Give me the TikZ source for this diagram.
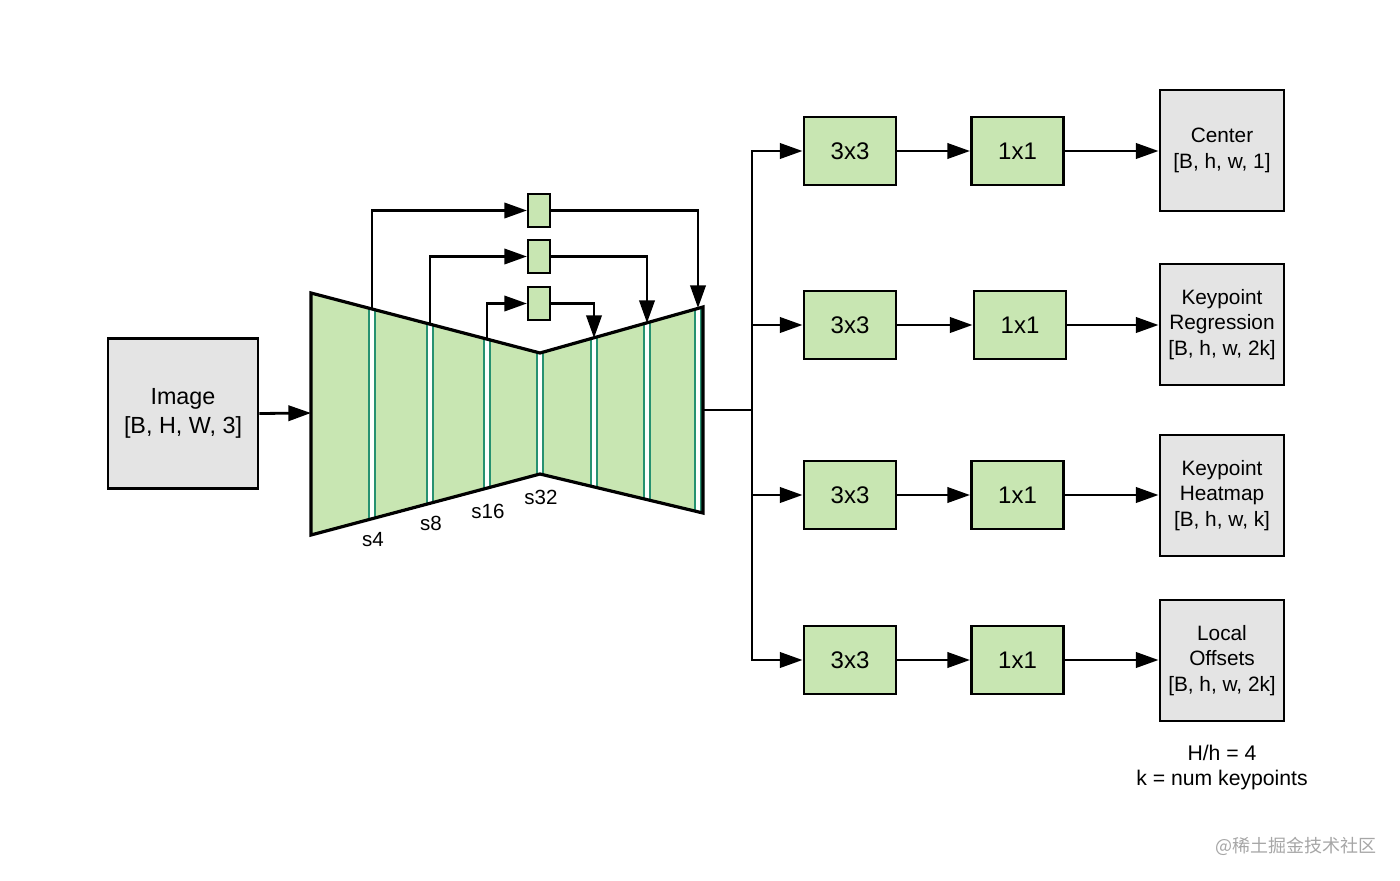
\documentclass[tikz,border=0pt]{standalone}
\usepackage{fontspec}
\setmainfont{Liberation Sans}
\newfontfamily\cjk{Noto Sans CJK SC}
\usetikzlibrary{arrows.meta}
\definecolor{gfill}{RGB}{200,230,178}
\definecolor{gbox}{RGB}{228,228,228}
\definecolor{barteal}{RGB}{38,145,112}
\begin{document}
\begin{tikzpicture}[x=0.75pt,y=-0.75pt,
  conv/.style={draw=black,line width=2.2pt,fill=gfill,inner sep=0pt,
    minimum width=69pt,minimum height=51pt,font=\fontsize{18}{21}\selectfont},
  outbox/.style={draw=black,line width=2.2pt,fill=gbox,inner sep=0pt,align=center,
    minimum width=93pt,minimum height=90.75pt,font=\fontsize{15.6}{19.2}\selectfont},
  skipbox/.style={draw=black,line width=1.6pt,fill=gfill,inner sep=0pt,
    minimum width=16.5pt,minimum height=24.75pt},
  conn/.style={line width=2.1pt,draw=black},
  arr/.style={conn,-{Triangle[length=17pt,width=11.5pt]}},
  lbl/.style={font=\fontsize{15.4}{18}\selectfont,inner sep=0pt},
  bar/.style={fill=white,draw=barteal,line width=1.2pt}
]
\useasboundingbox (0,0) rectangle (1400,881);

% Image box
\node[draw=black,line width=2.2pt,fill=gbox,inner sep=0pt,align=center,
  minimum width=112.5pt,minimum height=113pt,font=\fontsize{17.5}{21.75}\selectfont]
  (img) at (183,413.5) {Image\\{[B, H, W, 3]}};

% Hourglass body
\fill[gfill] (311,293) -- (540,353) -- (703,307) -- (703,513) -- (540,474) -- (311,535) -- cycle;
\begin{scope}
  \clip (311,293) -- (540,353) -- (703,307) -- (703,513) -- (540,474) -- (311,535) -- cycle;
  \foreach \bx in {372,430,487,540,594,647,698}
    \draw[bar] (\bx-3,280) rectangle (\bx+3,545);
\end{scope}
\draw[line width=2.4pt,line join=miter] (311,293) -- (540,353) -- (703,307) -- (703,513) -- (540,474) -- (311,535) -- cycle;

\coordinate (hin) at (311,413);
\draw[arr] (img.east) -- (hin);

% stride labels
\node[lbl] (s4) at (373,540) {s4};
\node[lbl] (s8) at (431,523) {s8};
\node[lbl] (s16) at (488,511) {s16};
\node[lbl] (s32) at (541,497) {s32};

% skip boxes
\node[skipbox] (sb1) at (539,210.5) {};
\node[skipbox] (sb2) at (539,256.5) {};
\node[skipbox] (sb3) at (539,303.5) {};

\coordinate (e4) at (372,309);
\coordinate (e8) at (430,324);
\coordinate (e16) at (487,339);
\coordinate (d1) at (698,308);
\coordinate (d2) at (647,323);
\coordinate (d3) at (594,338);

\draw[arr] (e4) |- (sb1.west);
\draw[arr] (e8) |- (sb2.west);
\draw[arr] (e16) |- (sb3.west);
\draw[arr] (sb1.east) -| (d1);
\draw[arr] (sb2.east) -| (d2);
\draw[arr] (sb3.east) -| (d3);

% heads
\node[conv] (c1) at (850,151) {3x3};
\node[conv] (c2) at (850,325) {3x3};
\node[conv] (c3) at (850,495) {3x3};
\node[conv] (c4) at (850,660) {3x3};
\node[conv] (p1) at (1017.5,151) {1x1};
\node[conv] (p2) at (1020,325) {1x1};
\node[conv] (p3) at (1017.5,495) {1x1};
\node[conv] (p4) at (1017.5,660) {1x1};
\node[outbox] (o1) at (1222,150.5) {Center\\{[B, h, w, 1]}};
\node[outbox] (o2) at (1222,324.5) {Keypoint\\Regression\\{[B, h, w, 2k]}};
\node[outbox] (o3) at (1222,495.5) {Keypoint\\Heatmap\\{[B, h, w, k]}};
\node[outbox] (o4) at (1222,660.5) {Local\\Offsets\\{[B, h, w, 2k]}};

\coordinate (hout) at (703,410);
\coordinate (split) at (752,410);
\draw[conn] (hout) -- (split);
\foreach \i in {1,2,3,4}{
  \draw[arr] (split) |- (c\i.west);
  \draw[arr] (c\i.east) -- (p\i.west);
  \draw[arr] (p\i.east) -- (p\i.east -| o\i.west);
}

\node[align=center,inner sep=0pt,font=\fontsize{15.9}{18.75}\selectfont] (note) at (1222,768)
  {H/h = 4\\k = num keypoints};

\node[text=black!35,inner sep=0pt,font=\cjk\fontsize{13.5}{16}\selectfont] (wm) at (1296,846) {@稀土掘金技术社区};
\end{tikzpicture}
\end{document}
